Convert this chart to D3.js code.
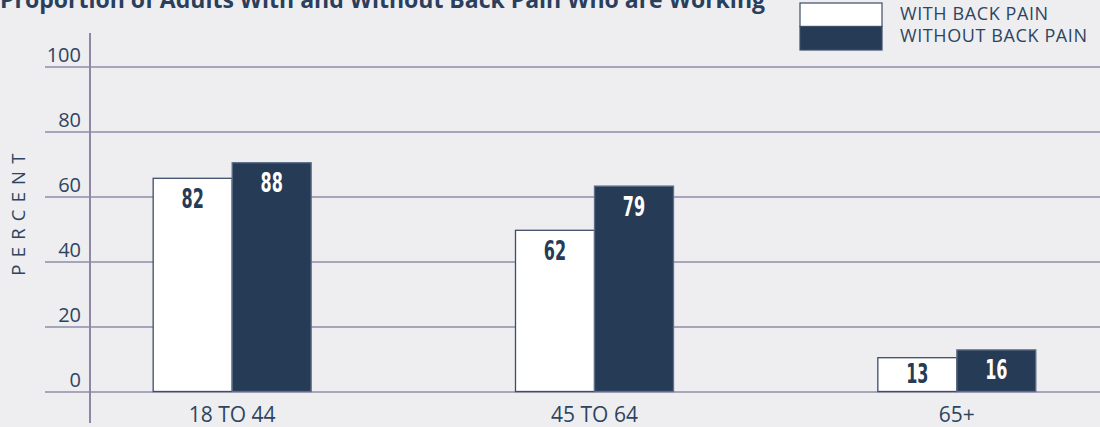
<!DOCTYPE html>
<html>
<head>
<meta charset="utf-8">
<script src="https://cdn.jsdelivr.net/npm/d3@7"></script>
<style>
  html, body { margin: 0; padding: 0; background: #eeeef1; }
  svg { display: block; }
</style>
</head>
<body>
<svg id="chart" width="1100" height="427"></svg>
<script>
// Share of adults who are working, by age group
const categories = ["18 TO 44", "45 TO 64", "65+"];
const seriesNames = ["WITH BACK PAIN", "WITHOUT BACK PAIN"];
const withPain = [82, 62, 13];
const withoutPain = [88, 79, 16];
const tickLabels = [0, 20, 40, 60, 80, 100];
const title = "Proportion of Adults With and Without Back Pain Who are Working";

const W = 1100, H = 427;
const baseY = 391.5, topY = 66.5;
const dark = "#263b56", ink = "#2d4560";

const svg = d3.select("#chart");

// Axis scale (printed ticks) and bar scale (bar heights)
const yAxisScale = d3.scaleLinear().domain([0, 100]).range([baseY, topY]);
const yBar = d3.scaleLinear().domain([0, 125]).range([baseY, topY]);

const x0 = d3.scaleBand().domain(categories).range([51, 1138]);
const bw = x0.bandwidth();
const barW = 79;
const x1 = d3.scaleBand().domain(seriesNames).range([bw / 2 - barW, bw / 2 + barW]);

// Title
svg.append("text")
  .attr("x", 765).attr("y", 8)
  .attr("text-anchor", "end")
  .attr("font-family", "'Open Sans', sans-serif")
  .attr("font-weight", 700)
  .attr("font-size", 23)
  .attr("fill", "#2a3f5c")
  .text(title);

// Gridlines with labels
const gridG = svg.append("g").attr("transform", "translate(45,0)")
  .call(d3.axisRight(yAxisScale).tickValues(tickLabels).tickSize(W - 45).tickFormat(d3.format("d")));
gridG.select(".domain").remove();
gridG.selectAll(".tick line").attr("stroke", "#5e5d86").attr("stroke-width", 1);
gridG.selectAll(".tick text")
  .attr("x", 36).attr("dy", -5.5)
  .attr("text-anchor", "end")
  .attr("font-family", "'Open Sans', sans-serif")
  .attr("font-size", 20)
  .attr("fill", ink);

// Vertical axis line
svg.append("line")
  .attr("x1", 90).attr("x2", 90)
  .attr("y1", 33).attr("y2", 423)
  .attr("stroke", "#8d87a5").attr("stroke-width", 2);

// Y title
svg.append("text")
  .attr("transform", "translate(25,211) rotate(-90)")
  .attr("text-anchor", "middle")
  .attr("font-family", "'Open Sans', sans-serif")
  .attr("font-size", 18.5)
  .attr("letter-spacing", 7.2)
  .attr("fill", ink)
  .text("PERCENT");

// Bars
const rows = categories.map((c, i) => ({
  cat: c,
  vals: [
    { s: seriesNames[0], v: withPain[i] },
    { s: seriesNames[1], v: withoutPain[i] }
  ]
}));

const groups = svg.selectAll(".grp").data(rows).join("g")
  .attr("class", "grp")
  .attr("transform", d => `translate(${x0(d.cat)},0)`);

groups.selectAll("rect").data(d => d.vals).join("rect")
  .attr("x", d => x1(d.s))
  .attr("y", d => yBar(d.v))
  .attr("width", x1.bandwidth())
  .attr("height", d => baseY - yBar(d.v))
  .attr("fill", d => d.s === seriesNames[0] ? "#ffffff" : dark)
  .attr("stroke", d => d.s === seriesNames[0] ? "#3e4d68" : "#5f6e88")
  .attr("stroke-width", 1.3);

groups.selectAll("text.val").data(d => d.vals).join("text")
  .attr("class", "val")
  .attr("transform", d => {
    const cx = x1(d.s) + x1.bandwidth() / 2;
    const y = Math.min(yBar(d.v) + 29.5, baseY - 8.5);
    return `translate(${cx},${y}) scale(0.66,1)`;
  })
  .attr("text-anchor", "middle")
  .attr("font-family", "'Liberation Sans Narrow', 'DejaVu Sans Condensed', sans-serif")
  .attr("font-weight", 700)
  .attr("font-size", 27)
  .attr("fill", d => d.s === seriesNames[0] ? dark : "#ffffff")
  .text(d => d.v);

// Category labels
const xAxisG = svg.append("g").attr("transform", `translate(0,${baseY})`)
  .call(d3.axisBottom(x0).tickSize(0));
xAxisG.select(".domain").remove();
xAxisG.selectAll(".tick text")
  .attr("y", 30).attr("dy", 0)
  .attr("font-family", "'Open Sans', sans-serif")
  .attr("font-size", 21)
  .attr("fill", ink);

// Legend
const legend = svg.append("g");
legend.append("rect").attr("x", 800).attr("y", 3).attr("width", 82).attr("height", 23.5)
  .attr("fill", "#ffffff").attr("stroke", "#3e4d68").attr("stroke-width", 1.2);
legend.append("rect").attr("x", 800).attr("y", 26.5).attr("width", 82).attr("height", 23.5)
  .attr("fill", dark).attr("stroke", "#3e4d68").attr("stroke-width", 1.2);
legend.selectAll("text").data(seriesNames).join("text")
  .attr("x", 900)
  .attr("y", (d, i) => i === 0 ? 19.5 : 42)
  .attr("font-family", "'Open Sans', sans-serif")
  .attr("font-size", 18)
  .attr("letter-spacing", 0.6)
  .attr("fill", ink)
  .text(d => d);
</script>
</body>
</html>
